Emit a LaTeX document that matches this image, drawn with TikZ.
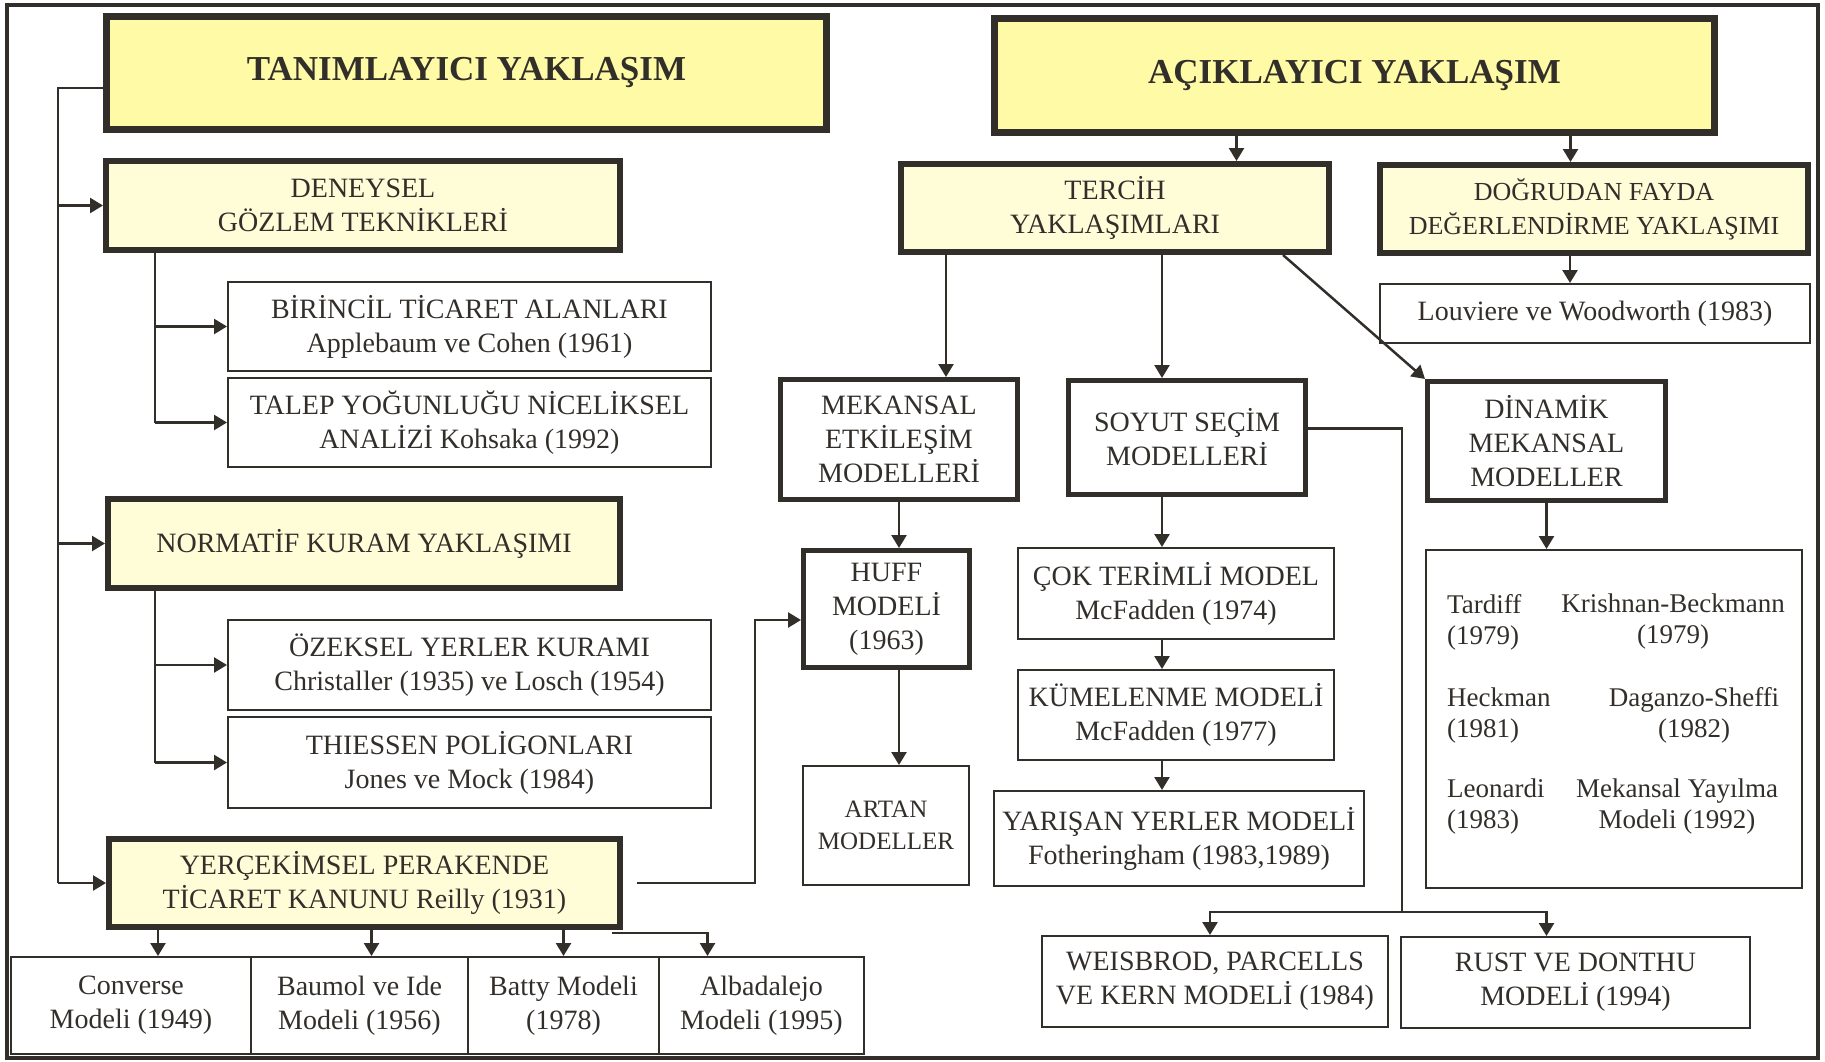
\documentclass[tikz,border=0pt]{standalone}
\usepackage{fontspec}
\setmainfont{Liberation Serif}
\usetikzlibrary{arrows.meta,calc}
\definecolor{ink}{RGB}{50,46,42}
\definecolor{gold}{RGB}{255,250,165}
\definecolor{cream}{RGB}{255,253,216}

\begin{document}
\begin{tikzpicture}[x=1pt, y=-1pt, color=ink, font=\fontsize{28}{34}\selectfont,
  >={Triangle[length=13pt,width=15pt]},
  head/.style={rectangle, draw=ink, fill=gold, line width=7pt, align=center, inner sep=0pt,
               font=\fontsize{35}{38}\selectfont\bfseries},
  band/.style={rectangle, draw=ink, fill=cream, line width=6pt, align=center, inner sep=0pt},
  heavy/.style={rectangle, draw=ink, line width=5pt, align=center, inner sep=0pt},
  leaf/.style={rectangle, draw=ink, line width=2pt, align=center, inner sep=0pt},
  item/.style={inner sep=0pt, font=\fontsize{27}{31}\selectfont},
  link/.style={draw=ink, line width=2.5pt}]
  \useasboundingbox (0,0) rectangle (1825,1062);
  \draw[line width=4pt] (7,5) rectangle (1818,1058);

  \node[head, minimum width=720, minimum height=113] (tan)  at (466.5,73)  {TANIMLAYICI YAKLAŞIM};
  \node[head, minimum width=720, minimum height=114] (acik) at (1354.5,75.5) {AÇIKLAYICI YAKLAŞIM};

  \node[band, minimum width=514, minimum height=89] (deney) at (363,205.5) {DENEYSEL\\GÖZLEM TEKNİKLERİ};
  \node[leaf, minimum width=483, minimum height=89] (birin) at (469.5,326.5) {BİRİNCİL TİCARET ALANLARI\\Applebaum ve Cohen (1961)};
  \node[leaf, minimum width=483, minimum height=89] (talep) at (469.5,422.5) {TALEP YOĞUNLUĞU NİCELİKSEL\\ANALİZİ Kohsaka (1992)};
  \node[band, minimum width=512, minimum height=89] (norm)  at (364,543.5) {NORMATİF KURAM YAKLAŞIMI};
  \node[leaf, minimum width=483, minimum height=90] (ozek)  at (469.5,665) {ÖZEKSEL YERLER KURAMI\\Christaller (1935) ve Losch (1954)};
  \node[leaf, minimum width=483, minimum height=91] (thies) at (469.5,762.5) {THIESSEN POLİGONLARI\\Jones ve Mock (1984)};
  \node[band, minimum width=511, minimum height=88] (yerc)  at (364.5,883) {YERÇEKİMSEL PERAKENDE\\TİCARET KANUNU Reilly (1931)};

  \node[leaf, minimum width=240, minimum height=97] (conv)  at (131,1005.5)   {Converse\\Modeli (1949)};
  \node[leaf, minimum width=217, minimum height=97] (baum)  at (359.5,1005.5) {Baumol ve Ide\\Modeli (1956)};
  \node[leaf, minimum width=191, minimum height=97] (batty) at (563.5,1005.5) {Batty Modeli\\(1978)};
  \node[leaf, minimum width=205, minimum height=97] (alba)  at (761.5,1005.5) {Albadalejo\\Modeli (1995)};

  \node[band, minimum width=428, minimum height=88] (tercih) at (1115,208) {TERCİH\\YAKLAŞIMLARI};
  \node[band, minimum width=428, minimum height=88, font=\fontsize{26}{34}\selectfont] (dogru) at (1594,209) {DOĞRUDAN FAYDA\\DEĞERLENDİRME YAKLAŞIMI};
  \node[leaf, minimum width=430, minimum height=59] (louv)   at (1595,313.5) {Louviere ve Woodworth (1983)};

  \node[heavy, minimum width=237, minimum height=120] (mek)   at (899,439.5)  {MEKANSAL\\ETKİLEŞİM\\MODELLERİ};
  \node[heavy, minimum width=237, minimum height=114] (soyut) at (1187,437.5) {SOYUT SEÇİM\\MODELLERİ};
  \node[heavy, minimum width=238, minimum height=119] (dinam) at (1546.5,441) {DİNAMİK\\MEKANSAL\\MODELLER};
  \node[heavy, minimum width=166, minimum height=117] (huff)  at (886.5,609)  {HUFF\\MODELİ\\(1963)};
  \node[leaf,  minimum width=166, minimum height=119, font=\fontsize{25}{32}\selectfont] (artan) at (886,825.5) {ARTAN\\MODELLER};

  \node[leaf, minimum width=316, minimum height=91] (cok)   at (1176,593.5) {ÇOK TERİMLİ MODEL\\McFadden (1974)};
  \node[leaf, minimum width=316, minimum height=90] (kume)  at (1176,715)   {KÜMELENME MODELİ\\McFadden (1977)};
  \node[leaf, minimum width=370, minimum height=95] (yaris) at (1179,838.5) {YARIŞAN YERLER MODELİ\\Fotheringham (1983,1989)};

  \node[leaf, minimum width=376, minimum height=338] (big) at (1614,719) {};
  \node[item, anchor=west, align=left] (tard)   at (1447,622)   {Tardiff\\(1979)};
  \node[item, align=center]            (krish)  at (1673,622)   {Krishnan-Beckmann\\(1979)};
  \node[item, anchor=west, align=left] (heck)   at (1447,715.5) {Heckman\\(1981)};
  \node[item, align=center]            (dagan)  at (1694,715.5) {Daganzo-Sheffi\\(1982)};
  \node[item, anchor=west, align=left] (leon)   at (1447,806.5) {Leonardi\\(1983)};
  \node[item, align=center]            (mekyay) at (1677,806.5) {Mekansal Yayılma\\Modeli (1992)};

  \node[leaf, minimum width=346, minimum height=91] (weis) at (1215,981.5)  {WEISBROD, PARCELLS\\VE KERN MODELİ (1984)};
  \node[leaf, minimum width=349, minimum height=91] (rust) at (1575.5,982.5) {RUST VE DONTHU\\MODELİ (1994)};

  \coordinate (ls) at (58,88);
  \coordinate (ds) at (155,0);
  \coordinate (sx) at (1162,0);
  \coordinate (jn) at (1402,912);

  \draw[link] (ls -| tan.west) -- (ls) -- (ls |- yerc.west);
  \foreach \n in {deney,norm,yerc}
    \draw[link,->] (ls |- \n.west) -- (\n.west);
  \draw[link] (ds |- deney.south) -- (ds |- talep.west);
  \draw[link] (ds |- norm.south) -- (ds |- thies.west);
  \foreach \n in {birin,talep,ozek,thies}
    \draw[link,->] (ds |- \n.west) -- (\n.west);

  \foreach \n/\s in {conv/27,baum/12,batty/0}
    \draw[link,->] ([xshift=\s]\n.north |- yerc.south) -- ([xshift=\s]\n.north);
  \draw[link,->] ([xshift=-11,yshift=-3]yerc.south east) -| ([xshift=-54]alba.north);
  \draw[link,->] ([xshift=14]yerc.east) -- ++(118,0) |- ([yshift=-11]huff.west);

  \draw[link,->] ([xshift=-118]acik.south) -- ([xshift=-118]acik.south |- tercih.north);
  \draw[link,->] ([xshift=216]acik.south) -- ([xshift=216]acik.south |- dogru.north);
  \draw[link,->] ([xshift=-24]dogru.south) -- ([xshift=-24]dogru.south |- louv.north);

  \draw[link,->] ([xshift=47]mek.north |- tercih.south) -- ([xshift=47]mek.north);
  \draw[link,->] (sx |- tercih.south) -- (sx |- soyut.north);
  \draw[link,->] ([xshift=168]tercih.south) -- (dinam.north west);

  \draw[link,->] (mek.south) -- (mek.south |- huff.north);
  \draw[link,->] (mek.south |- huff.south) -- (mek.south |- artan.north);

  \draw[link,->] (sx |- soyut.south) -- (sx |- cok.north);
  \draw[link,->] (sx |- cok.south) -- (sx |- kume.north);
  \draw[link,->] (sx |- kume.south) -- (sx |- yaris.north);

  \draw[link,->] (dinam.south) -- (dinam.south |- big.north);

  \draw[link] ([yshift=9]soyut.east) -| (jn);
  \draw[link,->] (jn) -| ([xshift=-5]weis.north);
  \draw[link,->] (jn) -| ([xshift=-29]rust.north);
\end{tikzpicture}
\end{document}
